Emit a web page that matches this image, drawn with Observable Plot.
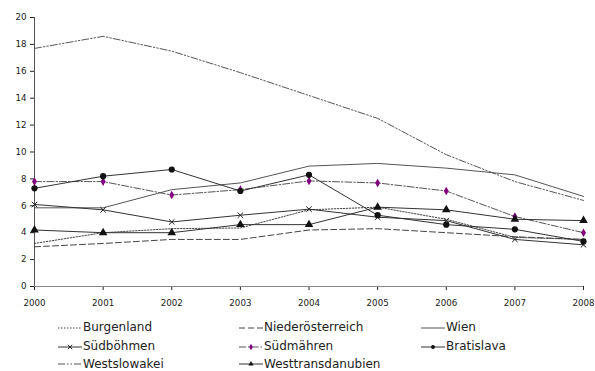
<!DOCTYPE html>
<html>
<head>
<meta charset="utf-8">
<script src="https://cdn.jsdelivr.net/npm/d3@7"></script>
<script src="https://cdn.jsdelivr.net/npm/@observablehq/plot@0.6"></script>
<style>
  html, body { margin: 0; padding: 0; background: #fff; }
  body { width: 595px; height: 371px; font-family: "DejaVu Sans", sans-serif; }
  #chart svg { display: block; }
  #legend { position: relative; height: 59px; }
  .item { position: absolute; display: flex; align-items: center; font-size: 12px; line-height: 13px; color: #222; height: 13px; white-space: nowrap; }
  .item svg { display: block; margin-right: 1px; }
</style>
</head>
<body>
<div id="chart"></div>
<div id="legend"></div>
<script>
// Jahre der x-Achse
const years = [2000, 2001, 2002, 2003, 2004, 2005, 2006, 2007, 2008];

// Werte je Region
const burgenland        = [3.2, 4.0, 4.3, 4.35, 5.7, 5.9, 5.0, 3.65, 3.5];
const niederoesterreich = [2.95, 3.2, 3.5, 3.5, 4.2, 4.3, 4.0, 3.7, 3.5];
const wien              = [5.85, 5.85, 7.2, 7.7, 8.95, 9.15, 8.8, 8.3, 6.7];
const suedboehmen       = [6.1, 5.7, 4.8, 5.3, 5.75, 5.15, 4.9, 3.5, 3.1];
const suedmaehren       = [7.8, 7.8, 6.8, 7.2, 7.85, 7.7, 7.1, 5.2, 4.0];
const bratislava        = [7.3, 8.2, 8.7, 7.1, 8.3, 5.3, 4.6, 4.25, 3.35];
const westslowakei      = [17.7, 18.6, 17.5, 15.9, 14.2, 12.5, 9.8, 7.8, 6.4];
const westtransdanubien = [4.2, 4.0, 4.0, 4.6, 4.6, 5.9, 5.7, 5.0, 4.9];

const yTicks = [0, 2, 4, 6, 8, 10, 12, 14, 16, 18, 20];

// Darstellung je Reihe
const series = [
  {name: "Burgenland",        values: burgenland,        stroke: "#444", dash: "1.5,1.5", symbol: null},
  {name: "Niederösterreich",  values: niederoesterreich, stroke: "#444", dash: "6,3",     symbol: null},
  {name: "Wien",              values: wien,              stroke: "#555", dash: null,      symbol: null},
  {name: "Südböhmen",         values: suedboehmen,       stroke: "#333", dash: null,      symbol: "times",    fill: "none",    mstroke: "#222", r: 2.6},
  {name: "Südmähren",         values: suedmaehren,       stroke: "#555", dash: "7,2,1.5,2", symbol: "diamond", fill: "#800080", mstroke: "none", r: 2.6},
  {name: "Bratislava",        values: bratislava,        stroke: "#333", dash: null,      symbol: "circle",   fill: "#111",    mstroke: "none", r: 3.1},
  {name: "Westslowakei",      values: westslowakei,      stroke: "#555", dash: "7,2,1.5,2,1.5,2", symbol: null},
  {name: "Westtransdanubien", values: westtransdanubien, stroke: "#333", dash: null,      symbol: "triangle", fill: "#111",    mstroke: "none", r: 3.2}
];

const rows = s => years.map((yr, i) => ({year: yr, value: s.values[i]}));

const marks = [
  Plot.ruleY([0], {stroke: "#888", strokeWidth: 1}),
  Plot.ruleX([2000], {y1: 0, y2: 20, stroke: "#555", strokeWidth: 1})
];
for (const s of series) {
  marks.push(Plot.line(rows(s), {
    x: "year", y: "value", stroke: s.stroke, strokeWidth: 1,
    strokeDasharray: s.dash || undefined
  }));
}
for (const s of series) {
  if (!s.symbol) continue;
  marks.push(Plot.dot(rows(s), {
    x: "year", y: "value", symbol: s.symbol, r: s.r,
    fill: s.fill, stroke: s.mstroke, strokeWidth: s.symbol === "times" ? 1 : 0
  }));
}

const chart = Plot.plot({
  width: 595,
  height: 312,
  marginTop: 17,
  marginBottom: 26,
  marginLeft: 34,
  marginRight: 12,
  style: {fontFamily: "DejaVu Sans, sans-serif", fontSize: "8.7px", color: "#222", background: "#fff"},
  x: {type: "linear", domain: [2000, 2008], ticks: years, tickFormat: d => String(d), tickSize: 4, tickPadding: 9, label: null},
  y: {domain: [0, 20], ticks: yTicks, tickSize: 4, tickPadding: 4, label: null},
  marks
});
document.getElementById("chart").appendChild(chart);

// Legende in drei Spalten
const legend = document.getElementById("legend");
const colX = [58, 239, 421];
const rowY = [9, 28, 45.5];
series.forEach((s, i) => {
  const item = document.createElement("div");
  item.className = "item";
  item.style.left = colX[i % 3] + "px";
  item.style.top = rowY[Math.floor(i / 3)] + "px";
  const sw = d3.create("svg").attr("width", 24).attr("height", 12);
  sw.append("line").attr("x1", 0).attr("x2", 24).attr("y1", 6).attr("y2", 6)
    .attr("stroke", s.stroke).attr("stroke-width", 1)
    .attr("stroke-dasharray", s.dash || null);
  if (s.symbol) {
    const sym = {times: d3.symbolTimes, diamond: d3.symbolDiamond, circle: d3.symbolCircle, triangle: d3.symbolTriangle}[s.symbol];
    sw.append("path")
      .attr("transform", "translate(12,6)")
      .attr("d", d3.symbol(sym, s.symbol === "times" ? 14 : 12)())
      .attr("fill", s.fill).attr("stroke", s.mstroke)
      .attr("stroke-width", s.symbol === "times" ? 1 : 0);
  }
  item.appendChild(sw.node());
  const t = document.createElement("span");
  t.textContent = s.name;
  item.appendChild(t);
  legend.appendChild(item);
});
</script>
</body>
</html>
